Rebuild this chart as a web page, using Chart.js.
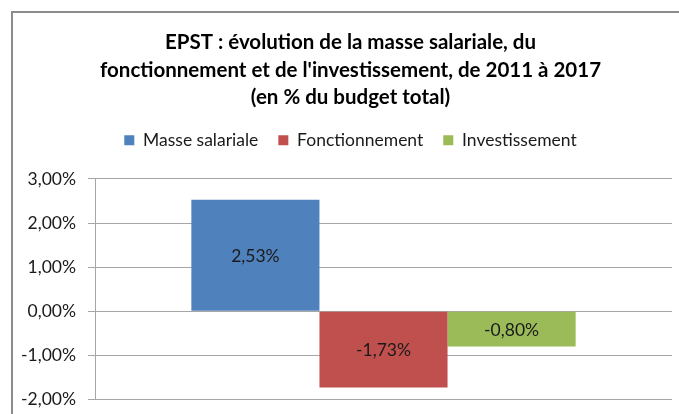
<!DOCTYPE html>
<html>
<head>
<meta charset="utf-8">
<script src="https://cdn.jsdelivr.net/npm/chart.js@4.4.1/dist/chart.umd.min.js"></script>
<style>
  html, body { margin: 0; padding: 0; background: #ffffff; overflow: hidden; }
  #wrap { width: 679px; height: 414px; position: relative; overflow: hidden; }
</style>
</head>
<body>
<div id="wrap"><canvas id="chart" width="679" height="422"></canvas></div>
<script>
// Données du graphique
const categories = [''];
const seriesNames = ['Masse salariale', 'Fonctionnement', 'Investissement'];
const seriesValues = [[2.53], [-1.73], [-0.80]];
const seriesColors = ['#4F81BD', '#C0504D', '#9BBB59'];
const titleLines = [
    'EPST : évolution de la masse salariale, du',
    "fonctionnement et de l'investissement, de 2011 à 2017",
    '(en % du budget total)'
];
const yTicks = [-2, -1, 0, 1, 2, 3];

const fontFamily = "Lato, 'Open Sans', sans-serif";

function formatPct(v) {
    return v.toFixed(2).replace('.', ',') + '%';
}

// Cadre gris autour du graphique
const framePlugin = {
    id: 'frame',
    beforeDraw(chart) {
        const ctx = chart.ctx;
        ctx.save();
        ctx.fillStyle = '#ffffff';
        ctx.fillRect(0, 0, chart.width, chart.height);
        ctx.strokeStyle = '#8c8c8c';
        ctx.lineWidth = 2;
        ctx.strokeRect(12, 12, chart.width + 20, chart.height + 20);
        ctx.restore();
    }
};

// Etiquettes de valeurs au centre des barres
const valueLabels = {
    id: 'valueLabels',
    afterDatasetsDraw(chart) {
        const ctx = chart.ctx;
        ctx.save();
        ctx.font = '17.5px ' + fontFamily;
        ctx.fillStyle = '#1a1a1a';
        ctx.textAlign = 'center';
        ctx.textBaseline = 'middle';
        chart.data.datasets.forEach((ds, i) => {
            const meta = chart.getDatasetMeta(i);
            meta.data.forEach((bar, j) => {
                const y = (bar.y + bar.base) / 2;
                ctx.fillText(formatPct(ds.data[j]), bar.x, y + 1);
            });
        });
        ctx.restore();
    }
};

new Chart(document.getElementById('chart'), {
    type: 'bar',
    data: {
        labels: categories,
        datasets: seriesNames.map((name, i) => ({
            label: name,
            data: seriesValues[i],
            backgroundColor: seriesColors[i],
            borderWidth: 0,
            categoryPercentage: 0.666,
            barPercentage: 1.0
        }))
    },
    options: {
        responsive: false,
        animation: false,
        layout: {
            padding: { left: 22, right: 0, top: 0, bottom: 0 }
        },
        plugins: {
            title: {
                display: true,
                text: titleLines,
                color: '#000000',
                font: { family: fontFamily, size: 20.5, weight: 'bold', lineHeight: 1.34 },
                padding: { top: 29, bottom: 0 }
            },
            legend: {
                position: 'top',
                labels: {
                    color: '#1a1a1a',
                    font: { family: fontFamily, size: 17.5 },
                    boxWidth: 10,
                    boxHeight: 10,
                    padding: 20
                }
            },
            tooltip: { enabled: false }
        },
        scales: {
            x: {
                position: 'top',
                display: true,
                ticks: { display: false },
                grid: { display: false },
                border: { display: false },
                afterFit: function(scale) { scale.height = 20; }
            },
            y: {
                min: -2,
                max: 3,
                afterFit: function(scale) { scale.width = 73; },
                afterBuildTicks: function(scale) {
                    scale.ticks = yTicks.map(v => ({ value: v }));
                },
                ticks: {
                    color: '#1a1a1a',
                    font: { family: fontFamily, size: 17.5 },
                    padding: 12,
                    callback: v => formatPct(v)
                },
                grid: {
                    color: '#a6a6a6',
                    tickLength: 7,
                    lineWidth: 1
                },
                border: { color: '#a6a6a6' }
            },
            y2: {
                position: 'right',
                display: true,
                ticks: { display: false },
                grid: { display: false, drawTicks: false },
                border: { display: false },
                afterFit: function(scale) { scale.width = 7; }
            }
        }
    },
    plugins: [framePlugin, valueLabels]
});
</script>
</body>
</html>
